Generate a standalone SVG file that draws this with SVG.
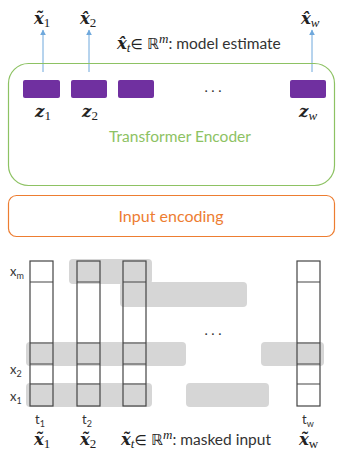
<svg xmlns="http://www.w3.org/2000/svg" width="337" height="453" viewBox="0 0 337 453">
<defs>
<marker id="ah" viewBox="0 0 10 10" refX="9" refY="5" markerWidth="6" markerHeight="6" orient="auto">
<path d="M0,0 L10,5 L0,10 z" fill="#6FA8DC"/>
</marker>
<style>
.math{font-family:"DejaVu Serif",serif;font-weight:bold;font-style:italic;fill:#222;font-size:16.5px}
.s{font-family:"Liberation Serif",serif;font-weight:normal;font-style:normal;font-size:13px}
.si{font-family:"Liberation Serif",serif;font-weight:normal;font-style:italic;font-size:13px}
.lbl{font-family:"Lato","Open Sans",sans-serif;fill:#333;font-style:normal;font-weight:normal}
.sym{font-family:"DejaVu Sans",sans-serif;font-style:normal;font-weight:normal}
.z{fill:#7030A0;}
.band{fill:#D6D6D6;}
.col{fill:none;stroke:#444;stroke-width:1.2}
.conn{stroke:#6FA8DC;stroke-width:1;fill:none}
.small{font-family:"Lato","Open Sans",sans-serif;fill:#333}
</style>
</defs>

<g id="connectors">
<line class="conn" x1="43" y1="72" x2="43" y2="30" marker-end="url(#ah)"/>
<line class="conn" x1="89" y1="72" x2="89" y2="30" marker-end="url(#ah)"/>
<line class="conn" x1="312" y1="72" x2="312" y2="30" marker-end="url(#ah)"/>
</g>

<g id="outputs">
<text class="math" x="34" y="24">x̃<tspan class="s" dy="3">1</tspan></text>
<text class="math" x="80" y="24">x̂<tspan class="s" dy="3">2</tspan></text>
<text class="math" x="301" y="24">x̂<tspan class="si" dy="3">w</tspan></text>
</g>

<g id="model-estimate">
<text class="math" x="117" y="49">x̂<tspan class="si" dy="3">t</tspan><tspan class="sym" dy="-3" font-size="14">∈ </tspan><tspan class="sym" font-size="15">ℝ</tspan><tspan class="si" dy="-6">m</tspan><tspan class="lbl" dy="6" font-size="15.5">: model estimate</tspan></text>
</g>

<g id="transformer-encoder">
<rect x="8.5" y="63.5" width="326" height="122" rx="20" fill="none" stroke="#8DC263" stroke-width="1.2"/>
<text x="180" y="142" font-family="Lato,'Open Sans',sans-serif" font-size="15.5" fill="#8DC263" text-anchor="middle">Transformer Encoder</text>
</g>

<g id="z1"><rect class="z" x="23" y="80" width="37" height="18" rx="2"/><text class="math" x="35" y="117">z<tspan class="s" dy="3">1</tspan></text></g>
<g id="z2"><rect class="z" x="71" y="80" width="36" height="18" rx="2"/><text class="math" x="82" y="117">z<tspan class="s" dy="3">2</tspan></text></g>
<g id="z3"><rect class="z" x="118" y="80" width="36" height="18" rx="2"/></g>
<g id="dots-top"><text x="213" y="92" font-family="Lato,sans-serif" font-size="14" fill="#333" text-anchor="middle">. . .</text></g>
<g id="zw"><rect class="z" x="290" y="80" width="36" height="18" rx="2"/><text class="math" x="299" y="117">z<tspan class="si" dy="3">w</tspan></text></g>

<g id="input-encoding">
<rect x="8.5" y="195.5" width="326" height="41" rx="8" fill="none" stroke="#ED7D31" stroke-width="1.2"/>
<text x="171" y="222" font-family="Lato,'Open Sans',sans-serif" font-size="16" fill="#ED7D31" text-anchor="middle">Input encoding</text>
</g>

<g id="mask-bands">
<rect class="band" x="69" y="259" width="83" height="25" rx="4"/>
<rect class="band" x="120" y="282" width="127" height="25" rx="4"/>
<rect class="band" x="26" y="342" width="160" height="24" rx="4"/>
<rect class="band" x="261" y="342" width="63" height="24" rx="4"/>
<rect class="band" x="26" y="383" width="126" height="24" rx="4"/>
<rect class="band" x="186" y="383" width="83" height="24" rx="4"/>
</g>

<g id="col1"><rect class="col" x="30" y="261" width="23" height="145"/><path class="col" d="M30,282H53M30,343H53M30,364H53M30,384H53"/></g>
<g id="col2"><rect class="col" x="77" y="261" width="23" height="145"/><path class="col" d="M77,282H100M77,343H100M77,364H100M77,384H100"/></g>
<g id="col3"><rect class="col" x="123" y="261" width="23" height="145"/><path class="col" d="M123,282H146M123,343H146M123,364H146M123,384H146"/></g>
<g id="colw"><rect class="col" x="297" y="261" width="23" height="145"/><path class="col" d="M297,282H320M297,343H320M297,364H320M297,384H320"/></g>

<g id="row-labels" class="small">
<text x="10" y="276" font-size="13">x<tspan font-size="9" dy="3">m</tspan></text>
<text x="10" y="374" font-size="13">x<tspan font-size="9" dy="3">2</tspan></text>
<text x="10" y="401" font-size="13">x<tspan font-size="9" dy="3">1</tspan></text>
<text x="213" y="335" font-size="14" text-anchor="middle">. . .</text>
<text x="35" y="424" font-size="13">t<tspan font-size="9" dy="3">1</tspan></text>
<text x="82" y="424" font-size="13">t<tspan font-size="9" dy="3">2</tspan></text>
<text x="302" y="424" font-size="13">t<tspan font-size="9" dy="3">w</tspan></text>
</g>

<g id="inputs">
<text class="math" x="34" y="445">x̃<tspan class="s" dy="3">1</tspan></text>
<text class="math" x="80" y="445">x̃<tspan class="s" dy="3">2</tspan></text>
<text class="math" x="299" y="445">x̃<tspan class="s" dy="3">w</tspan></text>
</g>

<g id="masked-input">
<text class="math" x="121" y="445">x̃<tspan class="si" dy="3">t</tspan><tspan class="sym" dy="-3" font-size="14">∈ </tspan><tspan class="sym" font-size="15">ℝ</tspan><tspan class="si" dy="-6">m</tspan><tspan class="lbl" dy="6" font-size="15.5">: masked input</tspan></text>
</g>
</svg>
